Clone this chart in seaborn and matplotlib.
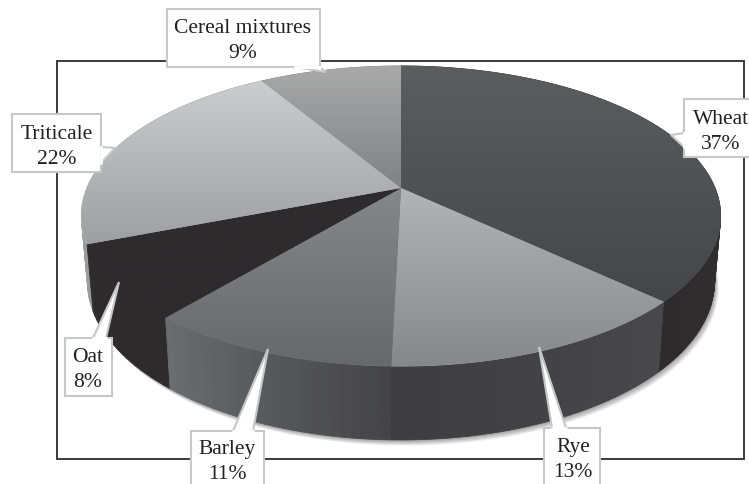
import numpy as np
import matplotlib
matplotlib.use("Agg")
import matplotlib.pyplot as plt
from matplotlib.collections import PolyCollection
from matplotlib.patches import Polygon, Rectangle
import seaborn as sns

# data, clockwise from 12 o'clock
crops = ["Wheat", "Rye", "Barley", "Oat", "Triticale", "Cereal mixtures"]
shares = [37.0, 13.4, 10.7, 8.0, 22.3, 8.6]

# colours of the top face (upper, lower) and of the rim (start, end of slice)
top_colors = [("#5b5d5f", "#45464a"), ("#b2b4b6", "#86888b"), ("#85878a", "#66686b"),
              ("#2e2b2d", "#2e2b2d"), ("#cbcdcf", "#9d9fa1"), ("#a9a9a9", "#808285")]
rim_colors = [("#3a3738", "#2f2b2c"), ("#48484b", "#3e3e40"), ("#454548", "#6a6c6f"),
              ("#2e2b2d", "#2e2b2d"), ("#9a9c9e", "#9a9c9e"), ("#9a9c9e", "#9a9c9e")]

# callouts: text centre, box (x0, y0, x1, y1), pointer (base, tip, base)
label_xy = [(721, 132), (573, 460), (227, 462), (88, 370), (57, 147), (243, 41)]
boxes = [(684, 99, 760, 157), (544, 428, 600, 495), (191, 431, 264, 495),
         (65, 338, 112, 396), (12, 114, 101, 172), (167, 9, 320, 67)]
pointers = [[(684, 133), (671, 135), (684, 147)], [(552, 428), (539, 347), (566, 428)],
            [(233, 431), (268, 349), (253, 431)], [(93, 338), (119, 282), (106, 338)],
            [(101, 147), (115, 148), (101, 163)], [(295, 67), (326, 72), (320, 67)]]

# perspective of the disc, in pixels
CX = 401
K = 0.187


def project(theta, a, b, cy):
    u, v = np.sin(theta), np.cos(theta)
    w = 1 + K * v
    return CX + a * u / w, cy - b * v / w


def top_face(theta):
    return project(theta, 314, 144.8, 188)


def bottom_face(theta):
    return project(theta, 308, 152.8, 252)


sns.set_theme(style="white")
fig = plt.figure(figsize=(7.49, 4.84), dpi=100)
ax = fig.add_axes([0, 0, 1, 1])
ax.set_xlim(0, 749)
ax.set_ylim(484, 0)
ax.axis("off")

ax.add_patch(Rectangle((57, 61), 687, 398, fill=False, ec="#3a3a3a", lw=1.4, zorder=1))

edges = 2 * np.pi * np.cumsum([0] + shares) / sum(shares)

# soft shadow under the pie
ring = np.linspace(0, 2 * np.pi, 361)
bx, by = bottom_face(ring)
for i in range(1, 8):
    ax.fill(bx + i * 0.6, by + i * 0.8, color="#000000", alpha=0.06, lw=0, zorder=2)

# rim, back to front
quads, quad_colors, quad_depth = [], [], []
for i, crop in enumerate(crops):
    steps = max(int(np.degrees(edges[i + 1] - edges[i]) / 1.5), 2)
    angles = np.linspace(edges[i], edges[i + 1], steps + 1)
    ramp = sns.blend_palette(rim_colors[i], steps)
    for j in range(steps):
        t0, t1 = angles[j], angles[j + 1]
        x0, y0 = top_face(t0)
        x1, y1 = top_face(t1)
        x2, y2 = bottom_face(t1)
        x3, y3 = bottom_face(t0)
        quads.append([(x0, y0), (x1, y1), (x2, y2), (x3, y3)])
        quad_colors.append(ramp[j])
        quad_depth.append(y0 + y1)
order = np.argsort(quad_depth)
ax.add_collection(PolyCollection([quads[i] for i in order],
                                 facecolors=[quad_colors[i] for i in order],
                                 edgecolors=[quad_colors[i] for i in order],
                                 linewidths=0.6, zorder=3))

# top face, each slice with a vertical gradient
for i, crop in enumerate(crops):
    arc = np.linspace(edges[i], edges[i + 1], 200)
    ax_x, ax_y = top_face(arc)
    outline = np.vstack([[CX, 188], np.column_stack([ax_x, ax_y])])
    mid = sns.blend_palette(top_colors[i], 3)[1]
    ax.add_patch(Polygon(outline, closed=True, fc=mid, ec=mid, lw=0.6, zorder=4))
    clip = Polygon(outline, closed=True, transform=ax.transData)
    grad = np.linspace(0, 1, 256).reshape(-1, 1)
    y0, y1 = outline[:, 1].min(), outline[:, 1].max()
    cmap = sns.blend_palette(top_colors[i], as_cmap=True)
    im = ax.imshow(grad, cmap=cmap, aspect="auto", vmin=0, vmax=1,
                   extent=(outline[:, 0].min(), outline[:, 0].max(), y1, y0), zorder=5)
    im.set_clip_path(clip)
ax.set_xlim(0, 749)
ax.set_ylim(484, 0)

# callouts
for i, crop in enumerate(crops):
    x0, y0, x1, y1 = boxes[i]
    ax.add_patch(Rectangle((x0, y0), x1 - x0, y1 - y0, fc="white", ec="#c6c7c9", lw=1.5, zorder=6))
    ax.add_patch(Polygon(pointers[i], closed=False, fc="white", ec="#c6c7c9", lw=1.5, zorder=7))
    # cover the box border where the pointer joins it
    ax.plot([pointers[i][0][0], pointers[i][2][0]], [pointers[i][0][1], pointers[i][2][1]],
            color="white", lw=2, zorder=7)
    ax.text(label_xy[i][0], label_xy[i][1], f"{crop}\n{round(shares[i])}%", ha="center", va="center",
            family="Liberation Serif", fontsize=15.5, color="#231f20", linespacing=1.4, zorder=8)

fig.savefig("out.png", dpi=100)
